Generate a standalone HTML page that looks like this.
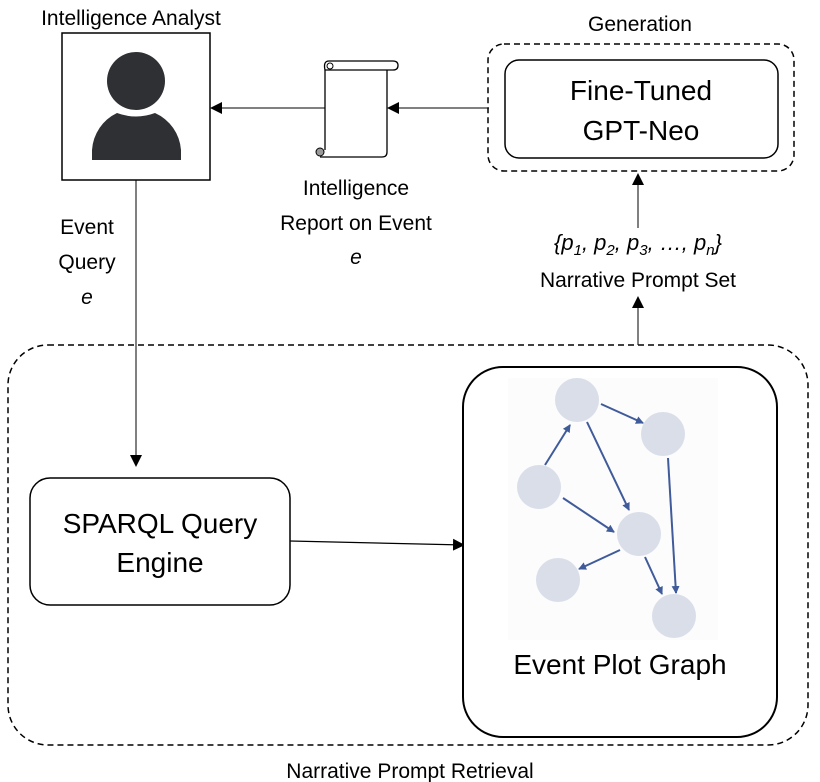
<!DOCTYPE html>
<html><head><meta charset="utf-8"><style>body{margin:0;background:#fff}svg{display:block}text{font-family:"Liberation Sans",sans-serif;fill:#000}</style></head>
<body>
<svg width="820" height="782" viewBox="0 0 820 782" xmlns="http://www.w3.org/2000/svg">
<defs>
<marker id="a" markerWidth="12" markerHeight="12" refX="11" refY="6" orient="auto" markerUnits="userSpaceOnUse"><path d="M0,0 L12,6 L0,12 z" fill="#000"/></marker>
<marker id="b" markerWidth="8" markerHeight="8" refX="7" refY="4" orient="auto" markerUnits="userSpaceOnUse"><path d="M0,0 L8,4 L0,8 z" fill="#3f5b9a"/></marker>
</defs>
<text x="131" y="25" font-size="21" text-anchor="middle">Intelligence Analyst</text>
<rect x="62" y="33" width="148" height="147" fill="#fff" stroke="#000" stroke-width="1.5"/>
<circle cx="136" cy="81" r="29" fill="#2e3034"/>
<path d="M92,160 L181,160 L181,150 A44,44 0 0 0 155,113 Q136,120 117,113 A44,44 0 0 0 92,150 Z" fill="#2e3034"/>
<path d="M325,70 L325,150 M387,70 L387,152 Q387,157 382,157 L320,157" fill="none" stroke="#000" stroke-width="1.3"/>
<path d="M329,61 L393,61 Q398,61 398,65.5 Q398,70 393,70 L325,70 Q323,61 329,61 Z" fill="#fff" stroke="#000" stroke-width="1.3"/>
<circle cx="330" cy="66" r="3" fill="none" stroke="#000"/>
<circle cx="320" cy="152" r="4" fill="#999" stroke="#000"/>
<line x1="325" y1="108" x2="211" y2="108" stroke="#000" stroke-width="1" marker-end="url(#a)"/>
<line x1="489" y1="108" x2="388" y2="108" stroke="#000" stroke-width="1" marker-end="url(#a)"/>
<text x="356" y="195" font-size="21" text-anchor="middle">Intelligence</text>
<text x="356" y="230" font-size="21" text-anchor="middle">Report on Event</text>
<text x="356" y="264" font-size="21" text-anchor="middle" font-style="italic">e</text>
<text x="640" y="31" font-size="21" text-anchor="middle">Generation</text>
<rect x="488" y="44" width="306" height="127" rx="16" fill="none" stroke="#000" stroke-width="1.5" stroke-dasharray="6,4"/>
<rect x="505" y="60" width="273" height="98" rx="14" fill="#fff" stroke="#000" stroke-width="1.5"/>
<text x="641" y="100" font-size="28" text-anchor="middle">Fine-Tuned</text>
<text x="641" y="140" font-size="28" text-anchor="middle">GPT-Neo</text>
<line x1="638" y1="228" x2="638" y2="174" stroke="#000" stroke-width="1" marker-end="url(#a)"/>
<text x="638" y="250" font-size="22" text-anchor="middle" font-style="italic">{p<tspan font-size="15" dy="5">1</tspan><tspan dy="-5">, p</tspan><tspan font-size="15" dy="5">2</tspan><tspan dy="-5">, p</tspan><tspan font-size="15" dy="5">3</tspan><tspan dy="-5">, …, p</tspan><tspan font-size="15" dy="5">n</tspan><tspan dy="-5">}</tspan></text>
<text x="638" y="287" font-size="21" text-anchor="middle">Narrative Prompt Set</text>
<line x1="638" y1="345" x2="638" y2="297" stroke="#000" stroke-width="1" marker-end="url(#a)"/>
<rect x="8" y="345" width="800" height="400" rx="40" fill="none" stroke="#000" stroke-width="1.5" stroke-dasharray="6,4"/>
<text x="410" y="778" font-size="21" text-anchor="middle">Narrative Prompt Retrieval</text>
<line x1="136" y1="180" x2="136" y2="466" stroke="#000" stroke-width="1" marker-end="url(#a)"/>
<text x="87" y="234" font-size="21" text-anchor="middle">Event</text>
<text x="87" y="269" font-size="21" text-anchor="middle">Query</text>
<text x="87" y="304" font-size="21" text-anchor="middle" font-style="italic">e</text>
<rect x="30" y="478" width="260" height="127" rx="20" fill="#fff" stroke="#000" stroke-width="1.5"/>
<text x="160" y="533" font-size="28" text-anchor="middle">SPARQL Query</text>
<text x="160" y="572" font-size="28" text-anchor="middle">Engine</text>
<line x1="290" y1="541" x2="464" y2="545" stroke="#000" stroke-width="1.2" marker-end="url(#a)"/>
<rect x="463" y="367" width="314" height="370" rx="40" fill="#fff" stroke="#000" stroke-width="2"/>
<rect x="508" y="378" width="210" height="262" fill="#fcfcfd"/>
<g fill="#d9dee9">
<circle cx="577" cy="400" r="22"/><circle cx="663" cy="434" r="22"/><circle cx="539" cy="487" r="22"/>
<circle cx="639" cy="534" r="22"/><circle cx="558" cy="580" r="22"/><circle cx="674" cy="616" r="22"/>
</g>
<g stroke="#3f5b9a" stroke-width="2" marker-end="url(#b)">
<line x1="601" y1="404" x2="643" y2="423"/>
<line x1="545" y1="465" x2="570" y2="425"/>
<line x1="587" y1="422" x2="629" y2="510"/>
<line x1="563" y1="498" x2="614" y2="532"/>
<line x1="668" y1="458" x2="676" y2="593"/>
<line x1="620" y1="550" x2="579" y2="569"/>
<line x1="645" y1="557" x2="662" y2="594"/>
</g>
<text x="620" y="674" font-size="28" text-anchor="middle">Event Plot Graph</text>
</svg>
</body></html>
